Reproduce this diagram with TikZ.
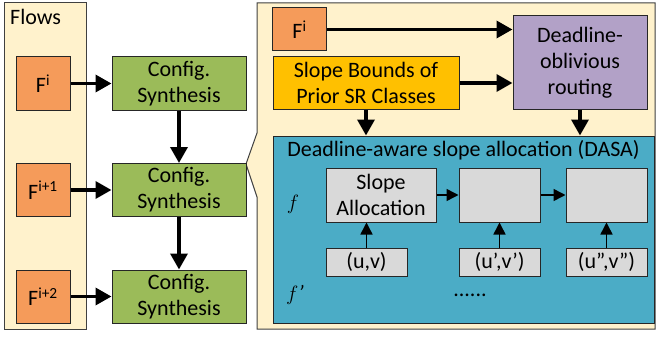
\documentclass[tikz,border=0pt]{standalone}
\usepackage{fontspec}
\setmainfont{Carlito}
\usetikzlibrary{arrows.meta, positioning}

\definecolor{panelbg}{RGB}{255,242,204}
\definecolor{floworange}{RGB}{245,155,90}
\definecolor{synthgreen}{RGB}{155,187,89}
\definecolor{boundsyellow}{RGB}{255,192,0}
\definecolor{routepurple}{RGB}{178,161,199}
\definecolor{dasablue}{RGB}{75,172,198}
\definecolor{slotgray}{RGB}{217,217,217}

\begin{document}
\begin{tikzpicture} [x=1pt, y=-1pt, on grid,
    font=\fontsize{22}{26}\selectfont,
    box/.style = {draw=black!85, line width=1pt, inner sep=0pt, align=center},
    flow/.style = {box, fill=floworange, minimum width=54pt, minimum height=53pt},
    synth/.style = {box, fill=synthgreen, minimum width=134pt, minimum height=53pt},
    slot/.style = {box, fill=slotgray, minimum width=81pt, minimum height=54pt},
    pair/.style = {box, fill=slotgray, minimum width=81pt, minimum height=28pt},
    panel/.style = {fill=panelbg, draw=black!75, line width=1pt},
    bigarrow/.style = {-{Triangle[length=16pt, width=17pt]}, line width=3.5pt},
    smallarrow/.style = {-{Triangle[length=12pt, width=12pt]}, line width=1.5pt}]

\useasboundingbox (0,0) rectangle (659,337);

% the two panels
\coordinate (tip) at (246,164);
\draw [panel] (4,3) rectangle (86,329);
\draw [panel] (257,3) -- (655,3) -- (655,329) -- (257,329) -- (257,197)
    -- (tip) -- (257,133) -- cycle;
\node (flowsTitle) [anchor=west, inner sep=2pt] at (8,17) {Flows};

% left column
\node (f1) [flow] at (43,83.5) {F\textsuperscript{i}};
\node (f2) [flow, below = 106.5pt of f1] {F\textsuperscript{i+1}};
\node (f3) [flow, below = 106.5pt of f2] {F\textsuperscript{i+2}};
\node (c1) [synth, right = 136pt of f1] {Config.\\Synthesis};
\node (c2) [synth, right = 136pt of f2] {Config.\\Synthesis};
\node (c3) [synth, right = 136pt of f3] {Config.\\Synthesis};

\draw [bigarrow] (f1) -- (c1);
\draw [bigarrow] (f2) -- (c2);
\draw [bigarrow] (f3) -- (c3);
\draw [bigarrow] (c1) -- (c2);
\draw [bigarrow] (c2) -- (c3);

% right panel
\node (fi) [flow, minimum height=43pt] at (299.5,29.5) {F\textsuperscript{i}};
\node (bounds) [box, fill=boundsyellow, minimum width=186pt, minimum height=52pt]
    at (366,83) {Slope Bounds of\\Prior SR Classes};
\node (routing) [box, fill=routepurple, minimum width=134pt, minimum height=93pt]
    at (580,62.5) {Deadline-\\oblivious\\routing};
\node (dasa) [box, fill=dasablue, minimum width=381pt, minimum height=187pt]
    at (463.5,229.5) {};
\node (dasaTitle) at (463.5,150) {Deadline-aware slope allocation (DASA)};

\draw [bigarrow] (fi) -- (fi -| routing.west);
\draw [bigarrow] (bounds.east) -- (bounds.east -| routing.west);
\draw [bigarrow] (bounds.south) -- (bounds.south |- dasa.north);
\draw [bigarrow] (routing.south) -- (routing.south |- dasa.north);

% inside DASA
\node (s1) [slot, minimum width=110pt] at (381,195) {Slope\\Allocation};
\node (s2) [slot, right = 118.5pt of s1] {};
\node (s3) [slot, right = 107pt of s2] {};
\node (p1) [pair] at (366.5,262) {(u,v)};
\node (p2) [pair, below = 67pt of s2] {(u',v')};
\node (p3) [pair, below = 67pt of s3] {(u'',v'')};
\node (fLabel) at (293,204) {$f$};
\node (fPrime) at (295,295) {$f$\textit{'}};
\node (dots) at (470,295) {......};

\draw [smallarrow] (s1) -- (s2);
\draw [smallarrow] (s2) -- (s3);
\draw [smallarrow] (p1) -- (p1 |- s1.south);
\draw [smallarrow] (p2) -- (s2);
\draw [smallarrow] (p3) -- (s3);
\end{tikzpicture}
\end{document}
